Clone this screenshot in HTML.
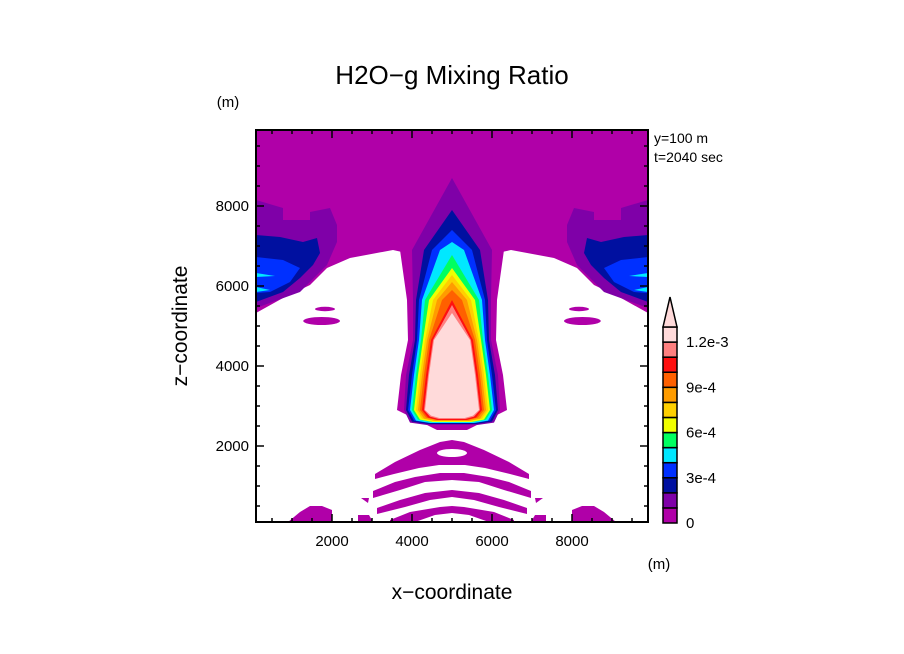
<!DOCTYPE html>
<html><head><meta charset="utf-8"><style>
html,body{margin:0;padding:0;background:#fff;}
svg{display:block;font-family:"Liberation Sans",sans-serif;}
</style></head><body>
<svg id="chart" width="904" height="654" viewBox="0 0 904 654">
<text x="452" y="84" text-anchor="middle" font-size="26">H2O−g Mixing Ratio</text>
<text x="228" y="107" text-anchor="middle" font-size="15">(m)</text>
<text x="654" y="143" font-size="14">y=100 m</text>
<text x="654" y="162" font-size="14">t=2040 sec</text>
<text x="659" y="569" text-anchor="middle" font-size="15">(m)</text>
<text x="452" y="599" text-anchor="middle" font-size="21">x−coordinate</text>
<text transform="translate(187,326) rotate(-90)" text-anchor="middle" font-size="21">z−coordinate</text>
<defs><clipPath id="clip"><rect x="256" y="130" width="392" height="392"/></clipPath></defs>
<g id="plot" clip-path="url(#clip)"></g>
<g id="axes"></g>
<g id="cbar"></g>
</svg>
<script>
const colors = ["#b000a8","#7f00a8","#0010a0","#0030ff","#00e8ff","#00ff60","#f0ff00","#ffd000","#ff9c00","#ff6000","#ff1010","#ff8080","#ffdada"];
const cbarLabels = ["0","3e-4","6e-4","9e-4","1.2e-3"];
const cbarLabelLevels = [0,3,6,9,12];
const xTicks = [2000,4000,6000,8000];
const yTicks = [2000,4000,6000,8000];
// upper magenta boundary (left half), meters
const topBoundary = [[100,5325],[775,5700],[1450,6025],[1875,6450],[2450,6700],[3525,6900],[3750,6850],[3875,6450],[3950,5850],[4025,5350]];
// side lobes (left half, mirrored)
const lobePurple = [[100,8150],[775,7950],[775,7650],[1450,7650],[1450,7850],[1950,7950],[2125,7525],[2125,7100],[1875,6525],[1200,5850],[100,5450]];
const lobeNavy = [[100,7275],[700,7225],[1275,7100],[1625,7200],[1700,6825],[1525,6525],[1200,6200],[775,5850],[100,5600]];
const lobeBlue = [[100,6725],[775,6650],[1200,6450],[950,6100],[450,5850],[100,5825]];
const lobeCyan1 = [[100,6325],[575,6250],[100,6225]];
const lobeCyan2 = [[100,5975],[450,5900],[100,5850]];
const blobs = [[1825,5425,250,55],[1740,5125,460,100]];
// plume levels (index 0 = magenta skirt)
const plumeApex = [7000,8700,7900,7400,7100,6775,6450,6275,6100,5900,5650,5525,5325];
const rowHeights = [6900,5650,4650,3775,2900];
const hw6900 = [1300,1000,700,500,300,null,null,null,null,null,null,null,null];
const hw5650 = [1125,975,900,825,750,675,575,475,375,250,100,null,null];
const hw4650 = [1100,975,925,875,825,775,725,675,625,575,525,475,450];
const hw3775 = [1275,1150,1075,1000,950,900,850,800,750,700,650,600,575];
const hw2900 = [1375,1200,1150,1100,1050,1000,950,900,850,800,750,700,675];
const plumeBottom = [2400,2525,2550,2575,2575,2600,2600,2625,2625,2650,2650,2675,2700];
const plumeBottomHw = [375,1050,1000,950,900,850,800,750,700,650,600,550,525];
// lower arches (left half top/bottom curves)
const arch1Top = [[3075,1300],[3575,1600],[4200,1900],[4700,2100],[5000,2150]];
const arch1Bot = [[3075,1175],[3550,1300],[4175,1450],[4675,1525],[5000,1525]];
const arch2Top = [[3025,875],[3575,1100],[4075,1225],[4700,1325],[5000,1325]];
const arch2Bot = [[3025,700],[3700,900],[4325,1100],[5000,1150]];
const arch3Top = [[3125,450],[3700,650],[4325,825],[5000,900]];
const arch3Bot = [[3125,300],[3825,475],[4450,650],[5000,725]];
const arch4Top = [[3450,150],[3950,350],[4700,475],[5000,500]];
const arch4Bot = [[3450,100],[4075,100],[4575,275],[5000,325]];
const archLens = [5000,1825,375,100];
const triangleSmall = [[2725,700],[2925,700],[2900,575]];
const bottomPiece = [[2650,275],[2925,275],[3025,100],[2650,100]];
const bottomBump = [[900,100],[1200,350],[1450,500],[1750,500],[2000,400],[2000,100]];

const NS="http://www.w3.org/2000/svg";
const xS = v => 252 + v*0.04;
const yS = v => 526 - v*0.04;
const mirror = pts => pts.map(p=>[10000-p[0],p[1]]);
const plot = document.getElementById('plot');
function poly(pts, fill, name){
  const e=document.createElementNS(NS,'polygon');
  e.setAttribute('points', pts.map(p=>xS(p[0]).toFixed(1)+','+yS(p[1]).toFixed(1)).join(' '));
  e.setAttribute('fill', fill);
  
  
  plot.appendChild(e); return e;
}
function ell(b, fill, name){
  const e=document.createElementNS(NS,'ellipse');
  e.setAttribute('cx', xS(b[0])); e.setAttribute('cy', yS(b[1]));
  e.setAttribute('rx', b[2]*0.04); e.setAttribute('ry', b[3]*0.04);
  e.setAttribute('fill', fill);
  
  
  plot.appendChild(e);
}
// top region
const topPoly = [[100,9900],[9900,9900]].concat(mirror(topBoundary).reverse().reverse().slice().reverse()).concat([]);
{
  const right = mirror(topBoundary); // from right edge inward
  const pts = [[100,9900],[9900,9900]].concat(right).concat(topBoundary.slice().reverse());
  poly(pts, colors[0], 'upper-moist-region');
}
[[lobePurple,1,'lobe-level-1'],[lobeNavy,2,'lobe-level-2'],[lobeBlue,3,'lobe-level-3'],[lobeCyan1,4,'lobe-level-4a'],[lobeCyan2,4,'lobe-level-4b']].forEach(([pts,c,n])=>{
  poly(pts, colors[c], n+'-left');
  poly(mirror(pts), colors[c], n+'-right');
});
blobs.forEach((b,i)=>{
  ell(b, colors[0], 'side-blob-left-'+i);
  ell([10000-b[0],b[1],b[2],b[3]], colors[0], 'side-blob-right-'+i);
});
const hwRows=[hw6900,hw5650,hw4650,hw3775,hw2900];
for(let k=0;k<colors.length;k++){
  const right=[];
  rowHeights.forEach((h,r)=>{ if(h<plumeApex[k] && hwRows[r][k]!=null) right.push([5000+hwRows[r][k],h]); });
  right.push([5000+plumeBottomHw[k],plumeBottom[k]+ (k===0?0:60)]);
  right.push([5000+plumeBottomHw[k]*0.6,plumeBottom[k]]);
  const left = right.map(p=>[10000-p[0],p[1]]).reverse();
  const pts=[[5000,plumeApex[k]]].concat(right).concat(left);
  if(k===0){ pts[0]=[5000,plumeApex[0]]; }
  poly(pts, colors[k], 'plume-level-'+k);
}
function band(top, bot, name){
  const topFull = top.concat(mirror(top).reverse().slice(1));
  const botFull = bot.concat(mirror(bot).reverse().slice(1));
  poly(topFull.concat(botFull.reverse()), colors[0], name);
}
band(arch1Top,arch1Bot,'arch-1');
ell(archLens,'#ffffff','arch-1-gap');
band(arch2Top,arch2Bot,'arch-2');
band(arch3Top,arch3Bot,'arch-3');
band(arch4Top,arch4Bot,'arch-4');
[[triangleSmall,'small-triangle'],[bottomPiece,'bottom-piece'],[bottomBump,'bottom-bump']].forEach(([p,n])=>{
  poly(p, colors[0], n+'-left'); poly(mirror(p), colors[0], n+'-right');
});

// axes
const ax=document.getElementById('axes');
function line(x1,y1,x2,y2,w,name){
  const e=document.createElementNS(NS,'line');
  e.setAttribute('x1',x1);e.setAttribute('y1',y1);e.setAttribute('x2',x2);e.setAttribute('y2',y2);
  e.setAttribute('stroke','#000');e.setAttribute('stroke-width',w);
  
  
  ax.appendChild(e);
}
function txt(x,y,s,anchor,name,parent){
  const e=document.createElementNS(NS,'text');
  e.setAttribute('x',x);e.setAttribute('y',y);e.setAttribute('text-anchor',anchor);
  e.setAttribute('font-size','15');e.textContent=s;
  
  
  (parent||ax).appendChild(e);
}
for(let v=500; v<9900; v+=500){
  const major = v%2000===0; const L = major?8:4;
  const x=xS(v), y=yS(v);
  line(x,522,x,522-L,1.5,'x-tick');
  line(x,130,x,130+L,1.5,'x-tick-top');
  line(256,y,256+L,y,1.5,'y-tick');
  line(648,y,648-L,y,1.5,'y-tick-right');
}
xTicks.forEach(v=>txt(xS(v),546,String(v),'middle','x-tick-label'));
yTicks.forEach(v=>txt(249,yS(v)+5,String(v),'end','y-tick-label'));
const fr=document.createElementNS(NS,'rect');
fr.setAttribute('x',256);fr.setAttribute('y',130);fr.setAttribute('width',392);fr.setAttribute('height',392);
fr.setAttribute('fill','none');fr.setAttribute('stroke','#000');fr.setAttribute('stroke-width','2');


ax.appendChild(fr);

// colorbar
const cb=document.getElementById('cbar');
const boxH=(523-327)/colors.length;
colors.forEach((c,i)=>{
  const r=document.createElementNS(NS,'rect');
  r.setAttribute('x',663);r.setAttribute('y',523-(i+1)*boxH);r.setAttribute('width',14);r.setAttribute('height',boxH);
  r.setAttribute('fill',c);r.setAttribute('stroke','#000');r.setAttribute('stroke-width','1.5');
  
  
  cb.appendChild(r);
});
const tri=document.createElementNS(NS,'polygon');
tri.setAttribute('points','663,327 677,327 670,297');
tri.setAttribute('fill',colors[colors.length-1]);tri.setAttribute('stroke','#000');tri.setAttribute('stroke-width','1.5');


cb.appendChild(tri);
cbarLabels.forEach((s,i)=>txt(686,523-cbarLabelLevels[i]*boxH+5,s,'start','colorbar-label',cb));
</script>
</body></html>
